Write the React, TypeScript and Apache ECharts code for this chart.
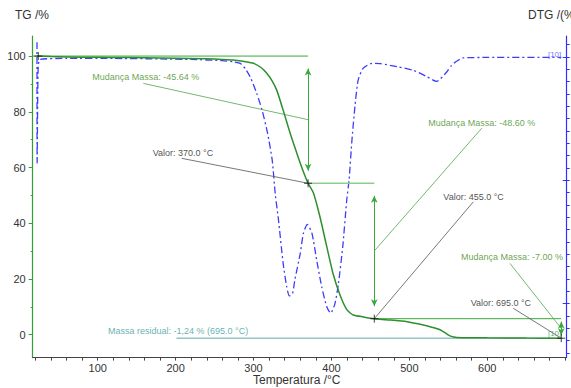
import { useEffect, useRef } from 'react';
import * as echarts from 'echarts';

const FONT = '"Liberation Sans", Arial, Helvetica, sans-serif';

// TG curve: temperature (°C) and mass (%)
const tgTemperature = [22, 40, 80, 120, 160, 200, 240, 260, 274, 290, 300, 310, 317, 324, 330, 338, 347, 357, 364, 370, 377, 385, 394, 402, 411, 420, 428, 441, 455, 470, 497, 518, 530, 540, 548, 553, 561, 600, 650, 695];
const tgMass = [100.0, 99.8, 99.6, 99.5, 99.4, 99.2, 99.0, 98.8, 98.6, 98.0, 97.4, 95.8, 93.8, 91.0, 87.6, 80.6, 72.3, 64.0, 58.5, 54.36, 50.8, 42.6, 31.6, 22.0, 14.3, 8.9, 7.1, 6.4, 5.76, 5.4, 4.7, 3.5, 2.6, 1.7, 0.3, -0.5, -0.95, -1.1, -1.2, -1.24];

// DTG curve: temperature (°C) and rate (%/min)
const dtgTemperature = [22, 22.2, 23.5, 26, 60, 120, 180, 220, 260, 275, 283, 290, 296, 304, 311, 318, 324, 328, 332, 338, 342.6, 346, 350, 353, 360, 364, 369, 375, 381, 387.5, 394, 399, 404.6, 409, 414.5, 419.6, 422.6, 426.3, 430.3, 434.2, 440.6, 452, 463, 485, 505, 522, 535, 548, 554, 559, 569, 600, 695];
const dtgRate = [0.6, -4.3, -0.4, -0.1, -0.06, -0.06, -0.08, -0.1, -0.15, -0.2, -0.26, -0.5, -0.83, -1.47, -2.16, -3.09, -4.19, -5.6, -6.6, -8.37, -9.32, -9.69, -9.6, -9.04, -7.96, -7.15, -6.79, -7.15, -8.23, -9.32, -10.13, -10.39, -9.99, -9.18, -7.7, -5.81, -4.99, -3.38, -1.96, -0.95, -0.46, -0.26, -0.27, -0.4, -0.54, -0.79, -0.99, -0.61, -0.35, -0.21, -0.04, -0.02, -0.02];

// Evaluation: start mass, step temperatures and mass changes
const startMass = 100;
const startTemperature = 23.7;
const stepTemperature = [370, 455, 695];
const massChange = [-45.64, -48.6, -7.0];
const residualFrom = 201;

// Axis ticks and labels
const xLabelValues = [100, 200, 300, 400, 500, 600];
const xTickValues = Array.from({ length: 35 }, (_, i) => 20 + i * 20);
const tgLabelValues = [0, 20, 40, 60, 80, 100];
const tgTickValues = [0, 10, 20, 30, 40, 50, 60, 70, 80, 90, 100];
const dtgTickValues = Array.from({ length: 26 }, (_, i) => -12 + i * 0.5);
const dtgMajorTickValues = [-10, -5, 0];

// Callout anchors (temperature, mass) for text and leader start
const changeTextAt = [[93, 92.6], [524.3, 76.1], [566.3, 27.8]];
const changeLeaderFrom = [[158.5, 90.2], [592.9, 74.1], [629.2, 25.6]];
const valueTextAt = [[170.5, 65.1], [543.6, 49.5], [578.7, 11.5]];
const valueLeaderFrom = [[207.8, 63.3], [582.1, 47.7], [633.4, 9.5]];
const residualTextAt = [113.2, 1.35];

const X_MIN = 16.5;
const X_MAX = 702;
const TG_MIN = -8.2;
const TG_MAX = 107.2;
const DTG_MIN = -12.19;
const DTG_MAX = 0.85;

const C_TG = '#2f8f2f';
const C_STEP = '#3aa83a';
const C_LEAD_GREEN = '#62b062';
const C_TEXT_GREEN = '#3f8c22';
const C_DTG = '#3c3cff';
const C_TEAL_TEXT = '#3a9c9c';
const C_TEAL_LINE = '#93c6c6';
const C_TEXT = '#333';

function buildOption() {
  const levels: number[] = [];
  let m = startMass;
  for (const d of massChange) {
    m = Math.round((m + d) * 100) / 100;
    levels.push(m);
  }
  const residual = levels[levels.length - 1];
  const before = [startMass, ...levels.slice(0, -1)];

  const seg = (a: number[], b: number[], color: string, width: number) => ({
    type: 'line',
    data: [a, b],
    symbol: 'none',
    silent: true,
    z: 3,
    lineStyle: { color, width },
  });

  const series: any[] = [];

  series.push({
    type: 'line',
    yAxisIndex: 1,
    data: dtgTemperature.map((t, i) => [t, dtgRate[i]]),
    symbol: 'none',
    smooth: 0.2,
    silent: true,
    z: 2,
    lineStyle: { color: C_DTG, width: 1.3, type: [7, 3, 2, 3] },
  });

  // horizontal level lines
  series.push(seg([X_MIN, startMass], [stepTemperature[0], startMass], C_STEP, 1));
  series.push(seg([stepTemperature[0], levels[0]], [stepTemperature[1], levels[0]], '#8fcc8f', 1.6));
  series.push(seg([stepTemperature[1], levels[1]], [stepTemperature[2], levels[1]], C_STEP, 1));
  series.push(seg([residualFrom, residual], [stepTemperature[2], residual], C_TEAL_LINE, 1.6));

  // arrows for each mass change
  const arrowData = stepTemperature.map((t, i) => {
    const hi = before[i];
    const lo = levels[i];
    const inset = Math.min(4.5, Math.abs(hi - lo) * 0.15);
    return [{ coord: [t, hi - inset] }, { coord: [t, lo + inset] }];
  });

  series.push({
    type: 'line',
    data: tgTemperature.map((t, i) => [t, tgMass[i]]),
    symbol: 'none',
    smooth: 0.2,
    silent: true,
    z: 4,
    lineStyle: { color: C_TG, width: 1.5 },
    markLine: {
      silent: true,
      symbol: ['arrow', 'arrow'],
      symbolSize: [5, 7],
      label: { show: false },
      lineStyle: { color: C_STEP, width: 1, type: 'solid' },
      data: arrowData,
    },
  });

  // leader lines
  stepTemperature.forEach((t, i) => {
    const mid = (before[i] + levels[i]) / 2;
    series.push(seg(changeLeaderFrom[i], [t, mid], C_LEAD_GREEN, 0.9));
    series.push(seg(valueLeaderFrom[i], [t, levels[i]], '#555', 0.8));
  });

  // cross markers
  series.push({
    type: 'scatter',
    silent: true,
    z: 6,
    symbol: 'path://M0,5 L10,5 M5,0 L5,10',
    symbolSize: 8,
    itemStyle: { color: 'none', borderColor: '#111', borderWidth: 1 },
    data: [[startTemperature, startMass], ...stepTemperature.map((t, i) => [t, levels[i]])],
  });

  const textItem = (at: number[], text: string, color: string) => ({
    value: at,
    label: {
      show: true,
      formatter: text,
      position: 'right',
      distance: 0,
      color,
      fontSize: 9,
      fontFamily: FONT,
    },
  });

  const texts = [
    ...stepTemperature.map((_, i) =>
      textItem(changeTextAt[i], `Mudança Massa: ${massChange[i].toFixed(2)} %`, C_TEXT_GREEN)
    ),
    ...stepTemperature.map((t, i) => textItem(valueTextAt[i], `Valor: ${t.toFixed(1)} °C`, '#222')),
    textItem(
      residualTextAt,
      `Massa residual: ${residual.toFixed(2).replace('.', ',')} % (${stepTemperature[2].toFixed(1)} °C)`,
      C_TEAL_TEXT
    ),
  ];

  series.push({
    type: 'scatter',
    silent: true,
    z: 7,
    symbolSize: 0,
    itemStyle: { color: 'transparent' },
    data: texts,
  });

  // curve end tags
  const endTag = (at: number[], color: string, yAxisIndex: number, dy: number) => ({
    type: 'scatter',
    silent: true,
    z: 7,
    yAxisIndex,
    symbolSize: 0,
    itemStyle: { color: 'transparent' },
    data: [
      {
        value: at,
        label: {
          show: true,
          formatter: '[10]',
          position: [0, dy],
          align: 'right',
          verticalAlign: 'middle',
          color,
          fontSize: 8,
          fontFamily: FONT,
        },
      },
    ],
  });
  series.push(endTag([dtgTemperature[dtgTemperature.length - 1], dtgRate[dtgRate.length - 1]], '#5050ff', 1, -3));
  series.push(endTag([tgTemperature[tgTemperature.length - 1], tgMass[tgMass.length - 1]], '#3d9a6a', 0, -5));

  const hidden = { show: false };

  return {
    animation: false,
    textStyle: { fontFamily: FONT },
    grid: { left: 32.7, right: 4.3, top: 36, bottom: 30.4, containLabel: false, outerBoundsMode: 'none' },
    xAxis: {
      type: 'value',
      min: X_MIN,
      max: X_MAX,
      splitLine: hidden,
      axisLine: { onZero: false, lineStyle: { color: '#444', width: 1 } },
      axisTick: { show: true, customValues: xTickValues, length: 3, lineStyle: { color: '#444' } },
      axisLabel: { customValues: xLabelValues, fontSize: 11, color: C_TEXT, margin: 5 },
    },
    yAxis: [
      {
        type: 'value',
        position: 'left',
        min: TG_MIN,
        max: TG_MAX,
        splitLine: hidden,
        axisLine: { show: true, onZero: false, lineStyle: { color: '#33a033', width: 1.2 } },
        axisTick: { show: true, customValues: tgTickValues, length: 2, lineStyle: { color: '#33a033' } },
        axisLabel: { customValues: tgLabelValues, fontSize: 11, color: C_TEXT, margin: 7 },
      },
      {
        type: 'value',
        position: 'right',
        min: DTG_MIN,
        max: DTG_MAX,
        splitLine: hidden,
        axisLine: { show: true, onZero: false, lineStyle: { color: '#3030ff', width: 1.2 } },
        axisTick: { show: true, customValues: dtgTickValues, length: 3, lineStyle: { color: '#3030ff' } },
        axisLabel: hidden,
      },
      {
        type: 'value',
        position: 'right',
        min: DTG_MIN,
        max: DTG_MAX,
        splitLine: hidden,
        axisLine: { show: false, onZero: false },
        axisTick: { show: true, inside: true, customValues: dtgMajorTickValues, length: 4, lineStyle: { color: '#3030ff' } },
        axisLabel: hidden,
      },
      {
        type: 'value',
        position: 'left',
        min: TG_MIN,
        max: TG_MAX,
        splitLine: hidden,
        axisLine: { show: false, onZero: false },
        axisTick: { show: true, customValues: tgLabelValues, length: 4, lineStyle: { color: '#33a033' } },
        axisLabel: hidden,
      },
    ],
    graphic: [
      { type: 'text', left: 15, top: 9, style: { text: 'TG /%', font: `12px ${FONT}`, fill: C_TEXT } },
      { type: 'text', left: 528, top: 9, style: { text: 'DTG /(%/min)', font: `12px ${FONT}`, fill: C_TEXT } },
      { type: 'text', left: 253, top: 374, style: { text: 'Temperatura /°C', font: `12px ${FONT}`, fill: C_TEXT } },
    ],
    series,
  };
}

export default function App() {
  const ref = useRef<HTMLDivElement>(null);
  useEffect(() => {
    const chart = echarts.init(ref.current!, null, { renderer: 'svg' });
    chart.setOption(buildOption() as any);
    return () => chart.dispose();
  }, []);
  return (
    <div
      ref={ref}
      style={{ position: 'fixed', left: 0, top: 0, width: 571, height: 388, background: '#fff' }}
    />
  );
}
